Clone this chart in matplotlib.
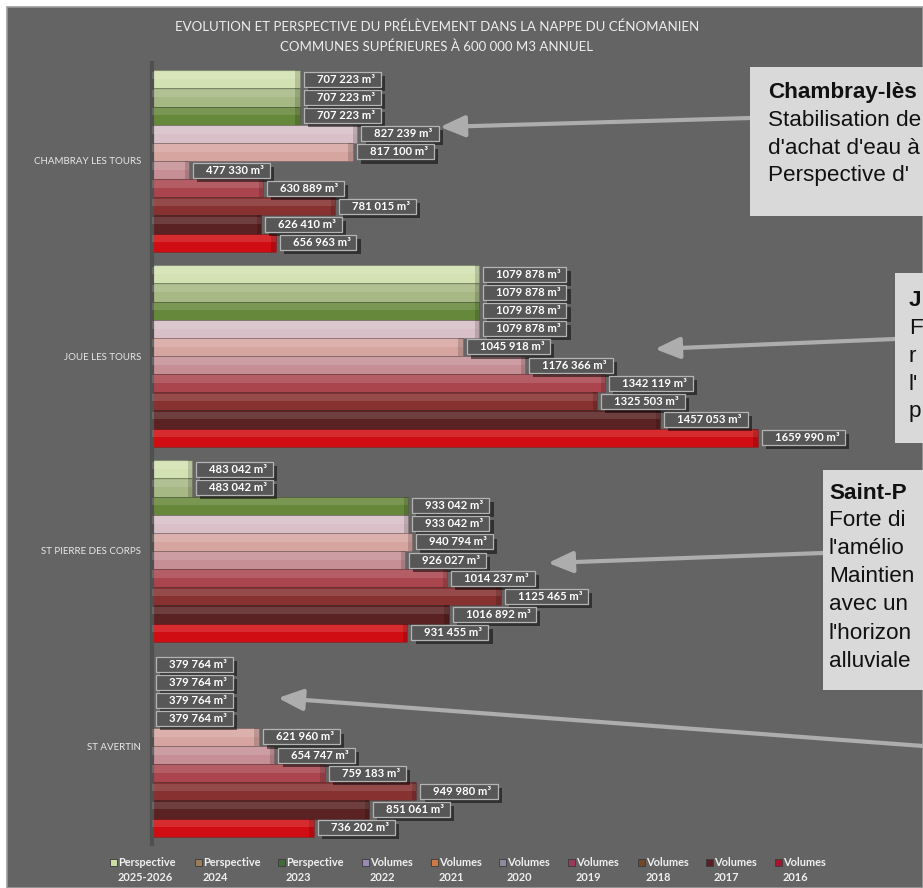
import matplotlib
matplotlib.use("Agg")
import matplotlib.pyplot as plt
import matplotlib.patches as mpatches
import matplotlib.patheffects as pe
from matplotlib.transforms import IdentityTransform
import numpy as np

# ---------------- data ----------------
communes = ["CHAMBRAY LES TOURS", "JOUE LES TOURS", "ST PIERRE DES CORPS", "ST AVERTIN"]
series = ["Perspective\n2025-2026", "Perspective\n2024", "Perspective\n2023",
          "Volumes\n2022", "Volumes\n2021", "Volumes\n2020", "Volumes\n2019",
          "Volumes\n2018", "Volumes\n2017", "Volumes\n2016"]
# values per commune, in series order (Perspective 2025-2026 ... Volumes 2016)
chambray = [707223, 707223, 707223, 827239, 817100, 477330, 630889, 781015, 626410, 656963]
joue = [1079878, 1079878, 1079878, 1079878, 1045918, 1176366, 1342119, 1325503, 1457053, 1659990]
st_pierre = [483042, 483042, 933042, 933042, 940794, 926027, 1014237, 1125465, 1016892, 931455]
st_avertin = [379764, 379764, 379764, 379764, 621960, 654747, 759183, 949980, 851061, 736202]
values = np.array([chambray, joue, st_pierre, st_avertin])  # shape (commune, series)

bar_colors = ["#d3e2b2", "#a6b884", "#66883a", "#d9bfc7", "#d7a5a0",
              "#c58f95", "#aa454d", "#873131", "#5a2222", "#d00d12"]
legend_colors = ["#c9dca2", "#9c7c5c", "#43693b", "#9a8ab4", "#cf7a46",
                 "#8d8aa0", "#9a3a5b", "#6e4829", "#5a1f23", "#a6152f"]

title_lines = ["EVOLUTION ET PERSPECTIVE DU PRÉLÈVEMENT DANS LA NAPPE DU CÉNOMANIEN",
               "COMMUNES SUPÉRIEURES À 600 000 M3 ANNUEL"]

# comment boxes, as far as they are visible (they run off the right edge)
notes = [
    ("Chambray-lès", ["Stabilisation de", "d'achat d'eau à", "Perspective d'"]),
    ("J", ["F", "r", "l'", "p"]),
    ("Saint-P", ["Forte di", "l'amélio", "Maintien", "avec un", "l'horizon", "alluviale"]),
]

# ---------------- figure ----------------
W, H = 923, 888
fig = plt.figure(figsize=(W / 100, H / 100), dpi=100, facecolor="white")

def fx(px):
    return px / W

def fy(py):
    return 1 - py / H

# gray chart background
bg = mpatches.Rectangle((fx(7), 0), 1 - fx(7), fy(7), transform=fig.transFigure,
                        fc="#646464", ec="#9c9c9c", lw=1.2, zorder=-5)
fig.patches.append(bg)

ax = fig.add_axes([fx(152), fy(843.5), fx(825) - fx(152), (843.5 - 63.5) / H])
ax.set_zorder(1)
ax.patch.set_visible(False)
xmin, xmax = 400000, 1800000
ax.set_xlim(xmin, xmax)
ax.set_ylim(3.5, -0.5)

n = len(series)
h = 0.093
cap = 9000  # darker side face at the end of each bar
ypos = np.arange(len(communes))
for i in range(n):
    y = ypos + (i - (n - 1) / 2) * h
    ax.barh(y, values[:, i], height=h, color=bar_colors[i], edgecolor="#00000030",
            linewidth=0.6, zorder=2)
    # glossy highlight on upper half
    ax.barh(y - h * 0.22, values[:, i], height=h * 0.42, color="white", alpha=0.13,
            linewidth=0, zorder=3)
    # darker end face
    ax.barh(y, cap, left=values[:, i] - cap, height=h, color="black", alpha=0.15,
            linewidth=0, zorder=3)

ax.set_xticks([])
ax.set_yticks(ypos)
ax.set_yticklabels(communes, fontsize=7, color="#e8e8e8", family=["Lato", "DejaVu Sans"])
ax.tick_params(axis="y", length=0, pad=8)
for s in ["top", "right", "bottom"]:
    ax.spines[s].set_visible(False)
ax.spines["left"].set_color("#505050")
ax.spines["left"].set_linewidth(3)


def fmt(v):
    return f"{v // 1000} {v % 1000:03d} m³"

texts = []
for c in range(len(communes)):
    for i in range(n):
        v = values[c, i]
        y = c + (i - (n - 1) / 2) * h
        t = ax.annotate(fmt(v), xy=(max(v, xmin), y), xytext=(17, 0),
                        textcoords="offset pixels", ha="left", va="center",
                        fontsize=8.1, fontweight="bold", color="white",
                        family=["Lato", "DejaVu Sans"], zorder=6, annotation_clip=False)
        texts.append(t)

fig.canvas.draw()
r = fig.canvas.get_renderer()
for t in texts:
    bb = t.get_window_extent(r)
    rect = mpatches.Rectangle((bb.x0 - 13, bb.y0 - 2), bb.width + 19, bb.height + 4,
                              transform=IdentityTransform(), fc="#575757", ec="#b4b4b4",
                              lw=0.9, zorder=5, clip_on=False)
    rect.set_path_effects([pe.SimplePatchShadow(offset=(3, -3), shadow_rgbFace="black",
                                                alpha=0.5), pe.Normal()])
    ax.add_patch(rect)

# title
for k, line in enumerate(title_lines):
    fig.text(fx(437), fy(27 + 20 * k), line, ha="center", va="center", fontsize=9.5,
             color="#eeeeee", family=["Lato", "DejaVu Sans"])

# legend
leg_x = [113, 198, 281, 365, 434, 502, 571, 641, 709, 778]
for i, lab in enumerate(series):
    mx = leg_x[i]
    sq = mpatches.Rectangle((fx(mx - 3.5), fy(865.5)), fx(7), 7 / H, transform=fig.transFigure,
                            fc=legend_colors[i], ec="#3a3a3a", lw=0.6)
    fig.patches.append(sq)
    l1, l2 = lab.split("\n")
    fig.text(fx(mx + 5), fy(862), l1, ha="left", va="center", fontsize=7.9,
             fontweight="bold", color="#f0f0f0", family=["Lato", "DejaVu Sans"])
    fig.text(fx(mx + 5), fy(877), l2, ha="left", va="center", fontsize=7.9,
             fontweight="bold", color="#f0f0f0", family=["Lato", "DejaVu Sans"])

# annotation boxes (cut by the right edge, as in the original)
boxes = [(750, 67, 216, 768, 92), (895, 273, 443, 909, 300), (823, 470, 690, 829, 493)]
arrows = [((750, 118), (440, 127)), ((895, 339), (655, 349)),
          ((823, 553), (548, 563)), ((923, 746), (278, 698))]
for (x0, y0, y1, tx, ty), (head, lines) in zip(boxes, notes):
    bx = mpatches.Rectangle((fx(x0), fy(y1)), 1.0, (y1 - y0) / H, transform=fig.transFigure,
                            fc="#d9d9d9", ec="none", zorder=8)
    fig.patches.append(bx)
    fig.text(fx(tx), fy(ty), head, ha="left", va="center", fontsize=16.2, fontweight="bold",
             color="#111111", family=["Liberation Sans", "DejaVu Sans"], zorder=9)
    for k, ln in enumerate(lines):
        fig.text(fx(tx), fy(ty + 28 * (k + 1)), ln, ha="left", va="center", fontsize=16.2,
                 color="#111111", family=["Liberation Sans", "DejaVu Sans"], zorder=9)

for (tail, head) in arrows:
    fig.add_artist(mpatches.FancyArrowPatch(
        (fx(tail[0]), fy(tail[1])), (fx(head[0]), fy(head[1])), transform=fig.transFigure,
        arrowstyle="-|>,head_length=15,head_width=6.5", color="#adadad", lw=3,
        shrinkA=0, shrinkB=0, zorder=7))

fig.savefig("out.png", dpi=100, facecolor="white")
